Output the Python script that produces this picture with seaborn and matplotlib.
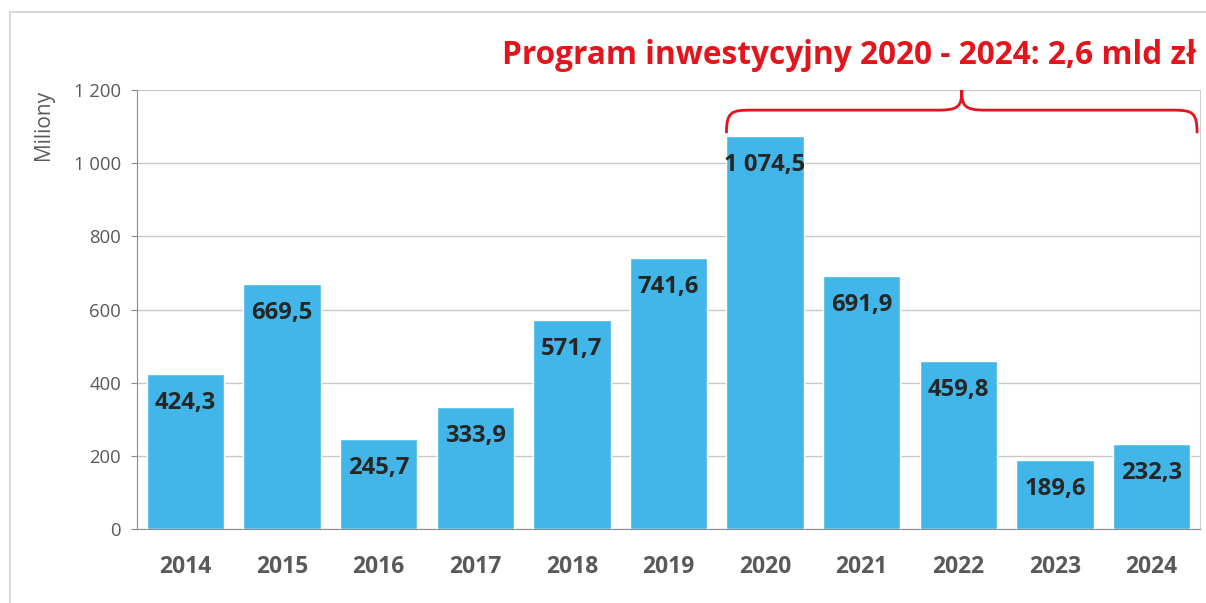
import numpy as np
import pandas as pd
import seaborn as sns
import matplotlib.pyplot as plt
from matplotlib.path import Path
from matplotlib.patches import PathPatch, Rectangle
from matplotlib.ticker import FuncFormatter

sns.set_style('white')
plt.rcParams['font.family'] = ['Open Sans', 'DejaVu Sans']

# data
years = ['2014', '2015', '2016', '2017', '2018', '2019', '2020', '2021', '2022', '2023', '2024']
values = [424.3, 669.5, 245.7, 333.9, 571.7, 741.6, 1074.5, 691.9, 459.8, 189.6, 232.3]
y_ticks = [0, 200, 400, 600, 800, 1000, 1200]
title = 'Program inwestycyjny 2020 - 2024: 2,6 mld zł'
program_start, program_end = '2020', '2024'

df = pd.DataFrame({'rok': years, 'wartosc': values})

bar_color = '#42b6e8'
grid_color = '#c8c8c8'
axis_color = '#8c8c8c'
label_gray = '#595959'

fig = plt.figure(figsize=(12.06, 6.03), dpi=100)
ax = fig.add_axes([0.1136, 0.1227, 0.995 - 0.1136, 0.8507 - 0.1227])

sns.barplot(data=df, x='rok', y='wartosc', color=bar_color, saturation=1,
            width=0.8, ax=ax, zorder=3)

ax.set_ylim(0, 1200)
ax.set_xlim(-0.5, len(years) - 0.5)
ax.set_yticks(y_ticks)
ax.yaxis.set_major_formatter(FuncFormatter(lambda v, p: f'{int(v):,}'.replace(',', ' ')))
ax.grid(axis='y', color=grid_color, lw=1, zorder=0)
ax.set_axisbelow(True)
ax.set_xlabel('')
ax.set_ylabel('')

# spines
ax.spines['top'].set_visible(False)
ax.spines['right'].set_color('#cfcfcf')
ax.spines['left'].set_color(axis_color)
ax.spines['bottom'].set_color(axis_color)

# x ticks at category boundaries
ax.set_xticks(np.arange(len(years)))
ax.set_xticklabels(years, fontsize=16.5, fontweight='bold', color=label_gray)
ax.set_xticks(np.arange(len(years) + 1) - 0.5, minor=True)
ax.tick_params(axis='x', which='major', length=0, pad=19)
ax.tick_params(axis='x', which='minor', length=6, color=axis_color, direction='out')
ax.tick_params(axis='y', length=4.5, color=axis_color, labelsize=13.3,
               labelcolor=label_gray, pad=7, left=True)

# value labels
for i, v in enumerate(values):
    txt = f'{v:,.1f}'.replace(',', ' ').replace('.', ',')
    ax.annotate(txt, (i, v), xytext=(0, -29), textcoords='offset pixels',
                ha='center', va='center', fontsize=17.2, fontweight='bold',
                color='#262626', zorder=5)

# brace over program years
i0 = years.index(program_start) - 0.4
i1 = years.index(program_end) + 0.47
mid = (i0 + i1) / 2
y_end, y_bar, y_tip = 1082, 1145, 1200
r = 0.25
verts = [(i0, y_end), (i0, y_bar - 5), (i0 + 0.05, y_bar), (i0 + r, y_bar),
         (mid - r, y_bar), (mid - 0.03, y_bar), (mid, y_bar + 10), (mid, y_tip),
         (mid, y_bar + 10), (mid + 0.03, y_bar), (mid + r, y_bar),
         (i1 - r, y_bar), (i1 - 0.05, y_bar), (i1, y_bar - 5), (i1, y_end)]
codes = [Path.MOVETO, Path.CURVE4, Path.CURVE4, Path.CURVE4,
         Path.LINETO, Path.CURVE4, Path.CURVE4, Path.CURVE4,
         Path.CURVE4, Path.CURVE4, Path.CURVE4,
         Path.LINETO, Path.CURVE4, Path.CURVE4, Path.CURVE4]
ax.add_patch(PathPatch(Path(verts, codes), fill=False, edgecolor='#e3141b',
                       lw=2, clip_on=False, zorder=6))

fig.text(1197 / 1206, 1 - 55 / 603, title, ha='right', va='center',
         fontsize=22.8, fontweight='bold', color='#e3141b')
fig.text(43 / 1206, 1 - 125 / 603, 'Miliony', rotation=90, ha='center',
         va='center', fontsize=15, color=label_gray)

# outer chart frame
fig.patches.append(Rectangle((10 / 1206, -0.1), 1.2, 1.1 - 12 / 603,
                             transform=fig.transFigure, fill=False,
                             edgecolor='#d9d9d9', lw=1.5))

fig.savefig('out.png', dpi=100)
